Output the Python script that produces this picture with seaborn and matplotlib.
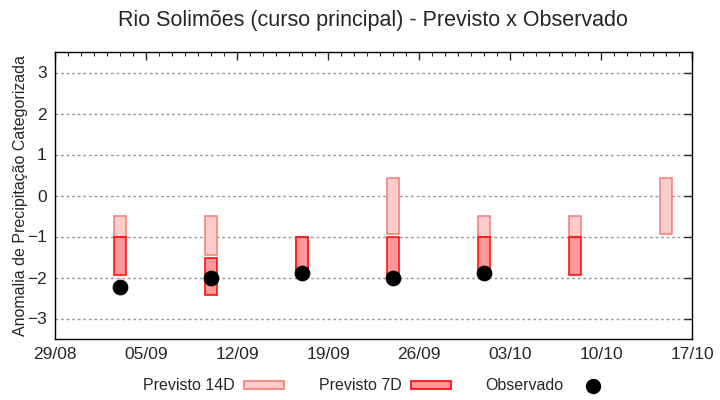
import pandas as pd
import numpy as np
import seaborn as sns
import matplotlib.pyplot as plt
import matplotlib.dates as mdates
from matplotlib.patches import Patch
from matplotlib.lines import Line2D

sns.set_style("white")
plt.rcParams['font.family'] = ['Liberation Sans', 'DejaVu Sans']

# datas semanais das previsões
datas = ['2023-09-03', '2023-09-10', '2023-09-17', '2023-09-24',
         '2023-10-01', '2023-10-08', '2023-10-15']
# previsto 14 dias (topo / base)
p14_topo = [-0.5, -0.5, -1.0, 0.43, -0.5, -0.5, 0.43]
p14_base = [-1.0, -1.45, -1.85, -0.95, -1.0, -1.0, -0.95]
# previsto 7 dias (topo / base), None = sem previsão
p7_topo = [-1.0, -1.52, -1.0, -1.0, -1.0, -1.0, None]
p7_base = [-1.95, -2.43, -1.85, -2.0, -1.85, -1.95, None]
# observado
obs = [-2.22, -2.0, -1.9, -2.0, -1.9, None, None]

# rótulos do eixo x
ticks_x = ['2023-08-29', '2023-09-05', '2023-09-12', '2023-09-19',
           '2023-09-26', '2023-10-03', '2023-10-10', '2023-10-17']

df = pd.DataFrame({'data': pd.to_datetime(datas), 'p14_topo': p14_topo, 'p14_base': p14_base,
                   'p7_topo': p7_topo, 'p7_base': p7_base, 'obs': obs})
df = df.astype({'p7_topo': float, 'p7_base': float, 'obs': float})

fig = plt.figure(figsize=(7.2, 4), dpi=100)
ax = fig.add_axes([0.0764, 0.1525, 0.8847, 0.7175])

larg = 0.93
x = mdates.date2num(df['data'])
ax.bar(x, df['p14_topo'] - df['p14_base'], bottom=df['p14_base'], width=larg,
       color='#ffcccc', edgecolor='#f47d72', linewidth=1.1, zorder=2)
m7 = df['p7_topo'].notna()
ax.bar(x[m7], (df['p7_topo'] - df['p7_base'])[m7], bottom=df['p7_base'][m7], width=larg,
       color='#ff9999', edgecolor='#ff0000', linewidth=1.1, zorder=3)
sns.scatterplot(data=df.dropna(subset=['obs']), x='data', y='obs', ax=ax, color='black',
                s=110, marker='o', edgecolor='black', zorder=4, legend=False)

tx = pd.to_datetime(ticks_x)
ax.set_xlim(mdates.date2num(tx[0]), mdates.date2num(tx[-1]))
ax.set_ylim(-3.5, 3.5)
ax.set_yticks([-3, -2, -1, 0, 1, 2, 3])
ax.set_xticks(mdates.date2num(tx))
ax.xaxis.set_major_formatter(mdates.DateFormatter('%d/%m'))
ax.xaxis.set_minor_locator(mdates.DayLocator())
ax.tick_params(axis='both', which='major', direction='in', length=6, width=1, labelsize=12.5,
               top=True, right=True, pad=6)
ax.tick_params(axis='x', which='minor', direction='in', length=3, width=0.8, top=True)
ax.grid(axis='y', linestyle=(0, (2, 2)), color='#999999', linewidth=1)
ax.set_axisbelow(True)
for s in ax.spines.values():
    s.set_linewidth(1)
    s.set_color('black')
ax.set_xlabel('')
ax.set_ylabel('Anomalia de Precipitação Categorizada', fontsize=11.5, labelpad=-1)

fig.suptitle('Rio Solimões (curso principal) - Previsto x Observado', fontsize=15.5,
             x=0.518, y=0.975)

handles = [Patch(facecolor='#ffcccc', edgecolor='#f47d72', linewidth=1.2),
           Patch(facecolor='#ff9999', edgecolor='#ff0000', linewidth=1.2),
           Line2D([], [], marker='o', color='black', linestyle='none', markersize=10)]
fig.legend(handles, ['Previsto 14D', 'Previsto 7D', 'Observado'], loc='center',
           bbox_to_anchor=(0.525, 0.035), ncol=3, frameon=False, markerfirst=False,
           fontsize=11.5, handlelength=2.5, handleheight=0.4, handletextpad=0.55,
           columnspacing=2.2)

fig.savefig('out.png', dpi=100)
